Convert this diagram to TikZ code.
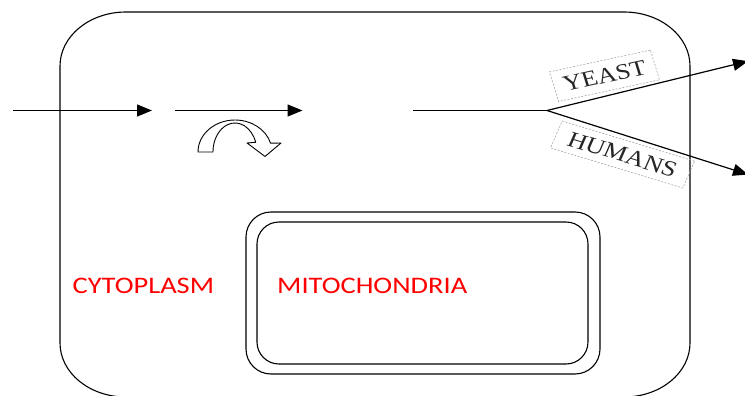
\documentclass[tikz,border=0pt]{standalone}
\usepackage{fontspec}
\newfontfamily\regionfont{Carlito}
\newfontfamily\speciesfont{Liberation Serif}
\usetikzlibrary{arrows.meta}
\begin{document}
\begin{tikzpicture}[x=1pt,y=-1pt,
  membrane/.style={draw=black, line width=1.1pt},
  flow/.style={draw=black, line width=1.2pt, -{Triangle[length=15pt,width=12pt]}},
  region/.style={text=red, font=\regionfont\fontsize{23.7}{28}\selectfont,
    xscale=1.2, anchor=base west, inner sep=0pt},
  species/.style={draw=black!35, dash pattern=on 2pt off 1.5pt, line width=0.6pt,
    text=black!85, font=\speciesfont\fontsize{22}{26}\selectfont, xscale=1.2,
    text height=14.6pt, text depth=0pt, inner xsep=8pt, inner ysep=8pt}]
\useasboundingbox (0,0) rectangle (745,396);

% cell membrane
\draw[membrane] (60,66) .. controls (60,36.2) and (89.5,12) .. (126,12)
  -- (624,12) .. controls (660.5,12) and (690,36.2) .. (690,66)
  -- (690,343) .. controls (690,372.8) and (660.5,397) .. (624,397)
  -- (126,397) .. controls (89.5,397) and (60,372.8) .. (60,343) -- cycle;

% mitochondrion, double membrane
\draw[membrane, rounded corners=25pt] (246,212) rectangle (600,374);
\draw[membrane, rounded corners=22pt] (257,222) rectangle (588,364);

% compartment labels
\node[region] (cyto) at (72.5,293.3) {CYTOPLASM};
\node[region] (mito) at (277,293.3) {MITOCHONDRIA};

% pathway points
\coordinate (src) at (13,110.5);
\coordinate (s1) at (152,110.5);
\coordinate (s2a) at (175,110.5);
\coordinate (s2b) at (302.5,110.5);
\coordinate (s3) at (413,110.5);
\coordinate (fork) at (547,110.5);
\coordinate (yeastend) at (748,61.2);
\coordinate (humanend) at (748,174.5);

\draw[flow] (src) -- (s1);
\draw[flow] (s2a) -- (s2b);
\draw[line width=1.2pt] (s3) -- (fork);
\draw[flow] (fork) -- (yeastend);
\draw[flow] (fork) -- (humanend);

% curved block arrow under the second step
\draw[line width=0.9pt, fill=white, line join=round]
  (198,152) arc[start angle=180, end angle=344, x radius=37, y radius=32]
  -- (281,143) -- (265,156.5) -- (247,143) -- (255.7,142.3)
  arc[start angle=340.5, end angle=180, x radius=22, y radius=29] -- cycle;

% branch labels
\node[species, rotate=14.5] (yeast) at (604.5,75.8) {YEAST};
\node[species, rotate=-20, inner xsep=11pt, inner ysep=7pt] (humans) at (622.5,154.5) {HUMANS};
\end{tikzpicture}
\end{document}
